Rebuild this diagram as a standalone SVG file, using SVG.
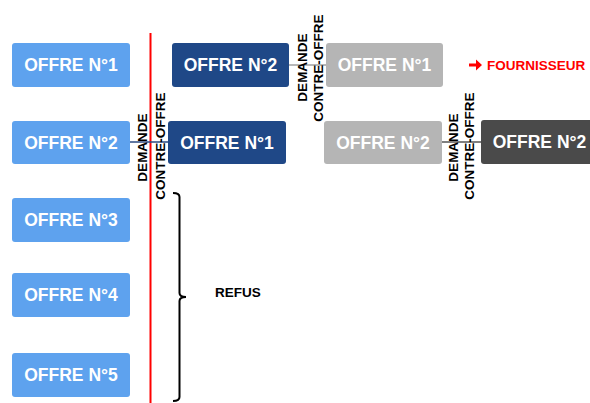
<svg xmlns="http://www.w3.org/2000/svg" width="590" height="403" viewBox="0 0 590 403">
<style>
.box{stroke:none}
.lb{fill:#5EA2EE}
.db{fill:#1F4887}
.gr{fill:#B5B5B5}
.dg{fill:#4A4A4A}
.bt{font-family:"Liberation Sans",Arial,sans-serif;font-weight:bold;font-size:17.5px;fill:#FFFFFF;text-anchor:middle}
.ct{font-family:"Liberation Sans",Arial,sans-serif;font-weight:bold;font-size:13.5px;fill:#000000;text-anchor:middle}
.conn{stroke-width:1.5;fill:none}
</style>
<rect width="590" height="403" fill="#FFFFFF"/>
<line x1="150.5" y1="33" x2="150.5" y2="403" stroke="#FF0000" stroke-width="2"/>
<g id="connectors">
<line class="conn" x1="130" y1="142" x2="168" y2="142" stroke="#2B4A80"/>
<line class="conn" x1="289" y1="65" x2="326" y2="65" stroke="#A0A0A0"/>
<line class="conn" x1="442" y1="142" x2="481" y2="142" stroke="#555555"/>
<text class="ct" transform="translate(147,147.5) rotate(-90)">DEMANDE</text>
<text class="ct" transform="translate(165,146) rotate(-90)">CONTRE-OFFRE</text>
<text class="ct" transform="translate(307,67.5) rotate(-90)">DEMANDE</text>
<text class="ct" transform="translate(323,68) rotate(-90)">CONTRE-OFFRE</text>
<text class="ct" transform="translate(458,147.5) rotate(-90)">DEMANDE</text>
<text class="ct" transform="translate(474,146) rotate(-90)">CONTRE-OFFRE</text>
</g>
<g id="left1"><rect class="box lb" x="12" y="43" width="118" height="44" rx="3"/><text class="bt" x="71" y="71.3">OFFRE N°1</text></g>
<g id="left2"><rect class="box lb" x="12" y="121" width="118" height="43" rx="3"/><text class="bt" x="71" y="148.8">OFFRE N°2</text></g>
<g id="left3"><rect class="box lb" x="12" y="198" width="118" height="44" rx="3"/><text class="bt" x="71" y="226.3">OFFRE N°3</text></g>
<g id="left4"><rect class="box lb" x="12" y="273" width="118" height="44" rx="3"/><text class="bt" x="71" y="301.3">OFFRE N°4</text></g>
<g id="left5"><rect class="box lb" x="12" y="353" width="118" height="44" rx="3"/><text class="bt" x="71" y="381.3">OFFRE N°5</text></g>
<g id="db2"><rect class="box db" x="172" y="43" width="117" height="44" rx="3"/><text class="bt" x="230.5" y="71.3">OFFRE N°2</text></g>
<g id="db1"><rect class="box db" x="168" y="121" width="118" height="43" rx="3"/><text class="bt" x="227" y="148.8">OFFRE N°1</text></g>
<g id="gr1"><rect class="box gr" x="326" y="43" width="117" height="44" rx="3"/><text class="bt" x="384.5" y="71.3">OFFRE N°1</text></g>
<g id="gr2"><rect class="box gr" x="324" y="121" width="118" height="43" rx="3"/><text class="bt" x="383" y="148.8">OFFRE N°2</text></g>
<g id="dg2"><rect class="box dg" x="481" y="120" width="117" height="44" rx="3"/><text class="bt" x="539.5" y="148.3">OFFRE N°2</text></g>
<g id="fournisseur">
<path d="M469,63.5 H476 V59.5 L482,65 L476,70.5 V66.5 H469 Z" fill="#FF0000"/>
<text x="487" y="70" font-family="'Liberation Sans',Arial,sans-serif" font-weight="bold" font-size="13.5" fill="#FF0000">FOURNISSEUR</text>
</g>
<g id="refus">
<path d="M173,193 Q179.5,193 179.5,197 V293 Q179.5,297 186,297 Q179.5,297 179.5,301 V397 Q179.5,401 173,401" fill="none" stroke="#000000" stroke-width="2"/>
<text x="215" y="297" font-family="'Liberation Sans',Arial,sans-serif" font-weight="bold" font-size="13.5" fill="#000000">REFUS</text>
</g>
</svg>
